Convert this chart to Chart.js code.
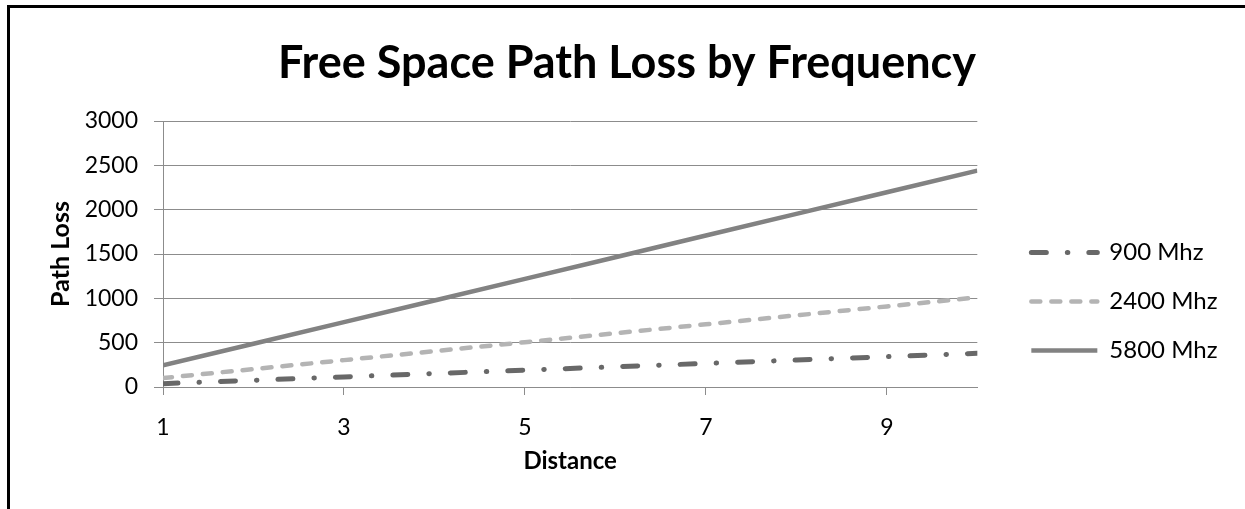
<!DOCTYPE html>
<html lang="en">
<head>
    <meta charset="UTF-8">
    <title>Free Space Path Loss by Frequency</title>
    <script src="https://cdn.jsdelivr.net/npm/chart.js"></script>
    <style>
        html, body { margin: 0; padding: 0; background: #fff; }
        .frame {
            position: absolute;
            left: 7px;
            top: 5px;
            border-left: 3px solid #000;
            border-top: 3px solid #000;
        }
        canvas { display: block; }
    </style>
</head>
<body>
    <div class="frame">
        <canvas id="fsplChart" width="1235" height="501"></canvas>
    </div>

    <script>
        // Data
        const distances = [1, 2, 3, 4, 5, 6, 7, 8, 9, 10];
        const xTickValues = [1, 3, 5, 7, 9];
        const loss900 = [38, 76, 114, 152, 190, 228, 266, 304, 342, 380];
        const loss2400 = [101, 202, 303, 404, 505, 606, 707, 808, 909, 1010];
        const loss5800 = [244, 488, 732, 976, 1220, 1464, 1708, 1952, 2196, 2440];

        const FONT = 'Lato, Carlito, Calibri, sans-serif';
        const gridGray = '#8c8c8c';

        function toPoints(values) {
            return distances.map((d, i) => ({ x: d, y: values[i] }));
        }

        // legend text is a bit wider than the box Chart.js measures, so widen its clip area
        const widenLegend = {
            id: 'widenLegend',
            afterLayout(chart) {
                if (chart.legend) {
                    chart.legend.width += 50;
                    chart.legend.right += 50;
                }
            }
        };

        // point-style legend items lose the dash, put it back from the dataset
        function legendLabels(chart) {
            const items = Chart.defaults.plugins.legend.labels.generateLabels(chart);
            return items.map(item => {
                const ds = chart.data.datasets[item.datasetIndex];
                item.lineDash = ds.borderDash || [];
                item.lineCap = ds.borderCapStyle || 'butt';
                item.lineWidth = ds.borderWidth;
                return item;
            });
        }

        const ctx = document.getElementById('fsplChart').getContext('2d');
        new Chart(ctx, {
            type: 'line',
            data: {
                datasets: [
                    {
                        label: '900 Mhz',
                        data: toPoints(loss900),
                        borderColor: '#686868',
                        borderWidth: 5,
                        borderDash: [15, 21, 0.5, 21],
                        borderCapStyle: 'round',
                        yAxisID: 'y'
                    },
                    {
                        label: '2400 Mhz',
                        data: toPoints(loss2400),
                        borderColor: '#b4b4b4',
                        borderWidth: 4.5,
                        borderDash: [9, 11],
                        borderCapStyle: 'round',
                        yAxisID: 'y'
                    },
                    {
                        label: '5800 Mhz',
                        data: toPoints(loss5800),
                        borderColor: '#828282',
                        borderWidth: 4.5,
                        borderCapStyle: 'butt',
                        yAxisID: 'y'
                    }
                ]
            },
            plugins: [widenLegend],
            options: {
                responsive: false,
                animation: false,
                devicePixelRatio: 1,
                elements: { point: { radius: 0 }, line: { tension: 0 } },
                layout: { padding: { left: 48, right: 49, top: 0, bottom: 33 } },
                plugins: {
                    tooltip: { enabled: false },
                    title: {
                        display: true,
                        text: 'Free Space Path Loss by Frequency',
                        color: '#000',
                        font: { family: FONT, size: 45, weight: 'bold' },
                        padding: { top: 28, bottom: 31 }
                    },
                    legend: {
                        position: 'right',
                        align: 'start',
                        title: { display: true, text: '', padding: { top: 193, bottom: 0 } },
                        labels: {
                            usePointStyle: true,
                            pointStyle: 'line',
                            pointStyleWidth: 66,
                            padding: 25,
                            color: '#000',
                            font: { family: FONT, size: 24 },
                            generateLabels: legendLabels
                        }
                    }
                },
                scales: {
                    y: {
                        type: 'linear',
                        position: 'left',
                        min: 0,
                        max: 3000,
                        ticks: {
                            stepSize: 500,
                            padding: 16,
                            color: '#000',
                            font: { family: FONT, size: 23 },
                            callback: v => String(v)
                        },
                        grid: { color: gridGray, tickLength: 9, lineWidth: 1 },
                        border: { display: true, color: gridGray, width: 1 },
                        title: {
                            display: true,
                            text: 'Path Loss',
                            color: '#000',
                            font: { family: FONT, size: 25, weight: 'bold' },
                            padding: { top: -12, bottom: 0 }
                        },
                        afterFit: s => { s.width = 105; }
                    },
                    x: {
                        type: 'linear',
                        position: 'bottom',
                        min: 1,
                        max: 10,
                        afterBuildTicks: s => { s.ticks = xTickValues.map(v => ({ value: v })); },
                        ticks: {
                            padding: 19,
                            color: '#000',
                            autoSkip: false,
                            maxRotation: 0,
                            font: { family: FONT, size: 23 }
                        },
                        grid: { drawOnChartArea: false, drawTicks: true, tickLength: 8, color: gridGray },
                        border: { display: true, color: gridGray, width: 1 },
                        title: {
                            display: true,
                            text: 'Distance',
                            color: '#000',
                            font: { family: FONT, size: 24, weight: 'bold' },
                            padding: { top: 0, bottom: 0 }
                        },
                        afterFit: s => { s.height = 89; }
                    },
                    // empty spacer between plot and legend
                    gap: {
                        type: 'linear',
                        position: 'right',
                        ticks: { display: false },
                        grid: { display: false },
                        border: { display: false },
                        afterFit: s => { s.width = 29; }
                    }
                }
            }
        });
    </script>
</body>
</html>
